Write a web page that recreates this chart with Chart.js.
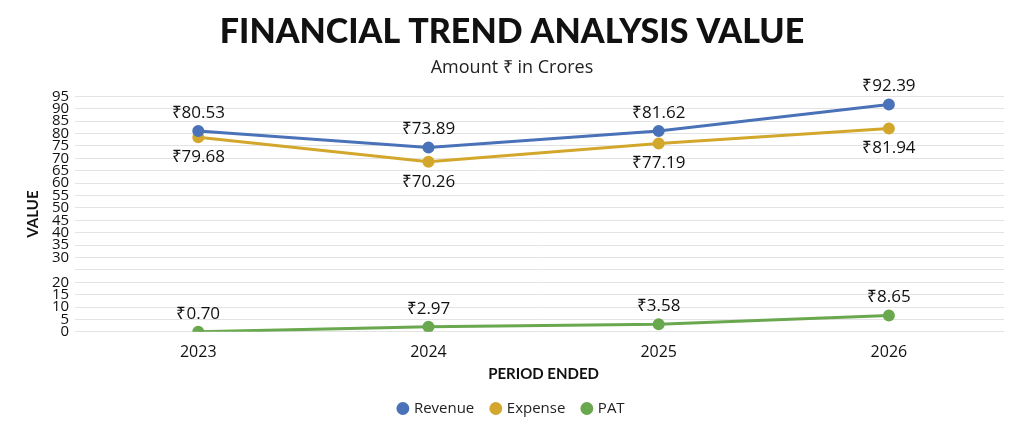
<!DOCTYPE html>
<html>
<head>
<meta charset="utf-8">
<script src="https://cdn.jsdelivr.net/npm/chart.js@4"></script>
<style>
  html, body { margin: 0; padding: 0; background: #fff; }
  #wrap { width: 1024px; height: 434px; }
</style>
</head>
<body>
<div id="wrap"><canvas id="trendChart"></canvas></div>
<script>
const periods = ["2023", "2024", "2025", "2026"];
// plotted positions
const revenue = [81, 74.4, 81, 91.7];
const expense = [78.5, 68.6, 76, 82];
const pat = [0, 2, 3, 6.6];
// label texts shown on the points
const revenueLabels = ["₹80.53", "₹73.89", "₹81.62", "₹92.39"];
const expenseLabels = ["₹79.68", "₹70.26", "₹77.19", "₹81.94"];
const patLabels = ["₹0.70", "₹2.97", "₹3.58", "₹8.65"];

const pointLabels = {
  id: 'pointLabels',
  afterDatasetsDraw(chart) {
    const ctx = chart.ctx;
    const sets = [[revenueLabels, -18], [expenseLabels, 20], [patLabels, -18]];
    ctx.save();
    ctx.font = '17px "Open Sans", sans-serif';
    ctx.fillStyle = '#111';
    ctx.textAlign = 'center';
    ctx.textBaseline = 'middle';
    sets.forEach(([texts, dy], i) => {
      chart.getDatasetMeta(i).data.forEach((pt, j) => {
        ctx.fillText(texts[j], pt.x, pt.y + dy);
      });
    });
    ctx.restore();
  }
};

new Chart(document.getElementById("trendChart").getContext('2d'), {
  type: 'line',
  data: {
    labels: periods,
    datasets: [
      { label: "Revenue", data: revenue, borderColor: '#4a72b8', backgroundColor: '#4a72b8', borderWidth: 3, pointRadius: 4.5 },
      { label: "Expense", data: expense, borderColor: '#d2a72c', backgroundColor: '#d2a72c', borderWidth: 3, pointRadius: 4.5 },
      { label: "PAT", data: pat, borderColor: '#6aa84f', backgroundColor: '#6aa84f', borderWidth: 3, pointRadius: 4.5 }
    ]
  },
  options: {
    responsive: true,
    maintainAspectRatio: false,
    animation: false,
    layout: { padding: { left: 20, right: 20, top: 12, bottom: 8 } },
    plugins: {
      title: { display: true, text: 'FINANCIAL TREND ANALYSIS VALUE', color: '#111',
        font: { family: 'Lato', size: 34, weight: '900' }, padding: { bottom: 4 } },
      subtitle: { display: true, text: 'Amount ₹ in Crores', color: '#222',
        font: { family: '"Open Sans"', size: 18 }, padding: { bottom: 18 } },
      legend: { position: 'bottom', labels: { usePointStyle: true, pointStyle: 'circle', boxWidth: 7, boxHeight: 7,
        padding: 18, color: '#222', font: { family: '"Open Sans"', size: 15 } } },
      tooltip: { enabled: false }
    },
    scales: {
      x: {
        offset: true,
        grid: { display: false },
        border: { display: false },
        ticks: { color: '#111', font: { family: '"Open Sans"', size: 16 } },
        title: { display: true, text: 'PERIOD ENDED', color: '#111', font: { family: 'Lato', size: 15, weight: 'bold' }, padding: 0 }
      },
      y: {
        min: 0, max: 95,
        grid: { color: '#e3e3e3' },
        border: { display: false },
        ticks: { stepSize: 5, autoSkip: false, color: '#111', font: { family: '"Open Sans"', size: 15 }, padding: 6,
          callback: v => v === 25 ? '' : v },
        title: { display: true, text: 'VALUE', color: '#111', font: { family: 'Lato', size: 15, weight: 'bold' } }
      }
    }
  },
  plugins: [pointLabels]
});
</script>
</body>
</html>
